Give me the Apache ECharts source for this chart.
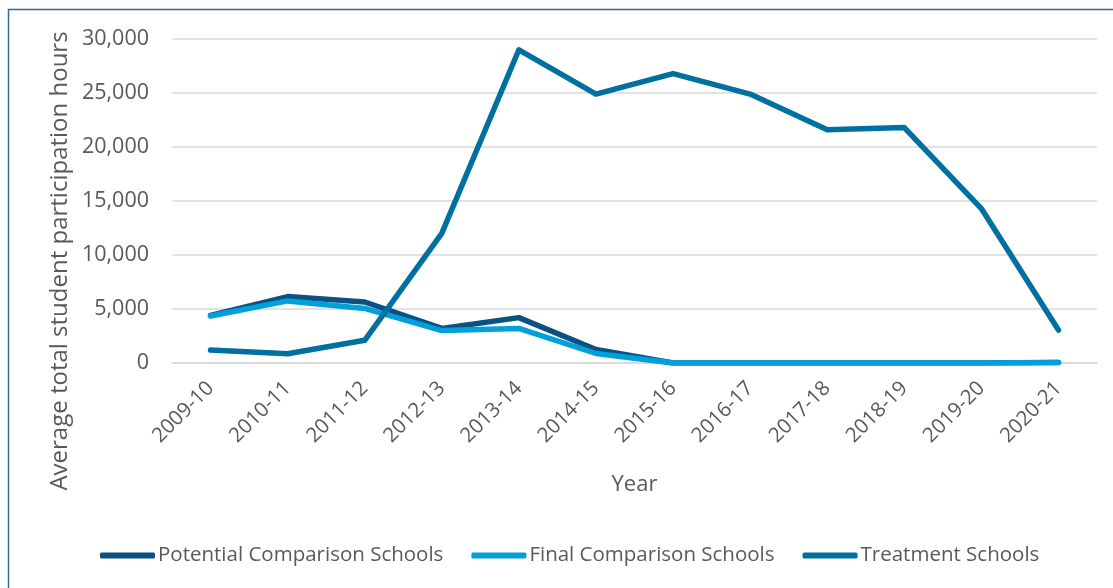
<!DOCTYPE html>
<html>
<head>
<meta charset="utf-8">
<script src="https://cdn.jsdelivr.net/npm/echarts@6/dist/echarts.min.js"></script>
<style>
html,body{margin:0;padding:0;background:#fff;}
#chart{width:1113px;height:588px;}
</style>
</head>
<body>
<div id="chart"></div>
<script>
const years = ['2009-10','2010-11','2011-12','2012-13','2013-14','2014-15','2015-16','2016-17','2017-18','2018-19','2019-20','2020-21'];
const potentialComparison = [4400, 6150, 5650, 3200, 4200, 1250, 0, 0, 0, 0, 0, 50];
const finalComparison = [4350, 5750, 5050, 3000, 3200, 880, 0, 0, 0, 0, 0, 50];
const treatment = [1200, 850, 2100, 12000, 29000, 24900, 26800, 24900, 21600, 21800, 14300, 3050];
const yTicks = { min: 0, max: 30000, interval: 5000 };

const font = "'Open Sans', 'Noto Sans', sans-serif";
const txt = '#595959';
const chart = echarts.init(document.getElementById('chart'), null, { renderer: 'canvas' });
chart.setOption({
  animation: false,
  backgroundColor: '#fff',
  textStyle: { fontFamily: font, color: txt },
  grid: { left: 172, right: 16, top: 39, bottom: 225, containLabel: false },
  graphic: [
    { type: 'rect', shape: { x: 8.5, y: 9.5, width: 1120, height: 600 }, style: { fill: 'none', stroke: '#2d6a96', lineWidth: 1.5 }, silent: true },
    { type: 'text', x: 60, y: 261, rotation: Math.PI / 2, style: { text: 'Average total student participation hours', fontFamily: font, fontSize: 24, fill: txt, align: 'center', verticalAlign: 'middle' } }
  ],
  legend: {
    left: 95, top: 540, itemWidth: 55, itemHeight: 6, itemGap: 28, icon: 'roundRect',
    textStyle: { fontFamily: font, fontSize: 20.5, color: txt, padding: [0, 0, 0, -2] },
    data: ['Potential Comparison Schools', 'Final Comparison Schools', 'Treatment Schools']
  },
  xAxis: {
    type: 'category', data: years, boundaryGap: true,
    name: 'Year', nameLocation: 'middle', nameGap: 111,
    nameTextStyle: { fontFamily: font, fontSize: 22, color: txt },
    axisLine: { show: true, lineStyle: { color: '#d9d9d9', width: 1.5 } },
    axisTick: { show: false },
    axisLabel: { rotate: 45, fontSize: 20.5, color: txt, fontFamily: font, margin: 22, interval: 0 }
  },
  yAxis: {
    type: 'value', min: yTicks.min, max: yTicks.max, interval: yTicks.interval,
    axisLine: { show: false }, axisTick: { show: false },
    splitLine: { lineStyle: { color: '#d9d9d9', width: 1.5 } },
    axisLabel: { fontSize: 21.5, color: txt, fontFamily: font, margin: 23,
      formatter: v => v.toLocaleString('en-US') }
  },
  series: [
    { name: 'Potential Comparison Schools', type: 'line', data: potentialComparison, symbol: 'none',
      lineStyle: { color: '#0b5181', width: 5.5, cap: 'round', join: 'round' }, itemStyle: { color: '#0b5181' } },
    { name: 'Final Comparison Schools', type: 'line', data: finalComparison, symbol: 'none',
      lineStyle: { color: '#02a0da', width: 5.5, cap: 'round', join: 'round' }, itemStyle: { color: '#02a0da' } },
    { name: 'Treatment Schools', type: 'line', data: treatment, symbol: 'none',
      lineStyle: { color: '#0070a0', width: 5.5, cap: 'round', join: 'round' }, itemStyle: { color: '#0070a0' } }
  ]
});
</script>
</body>
</html>
